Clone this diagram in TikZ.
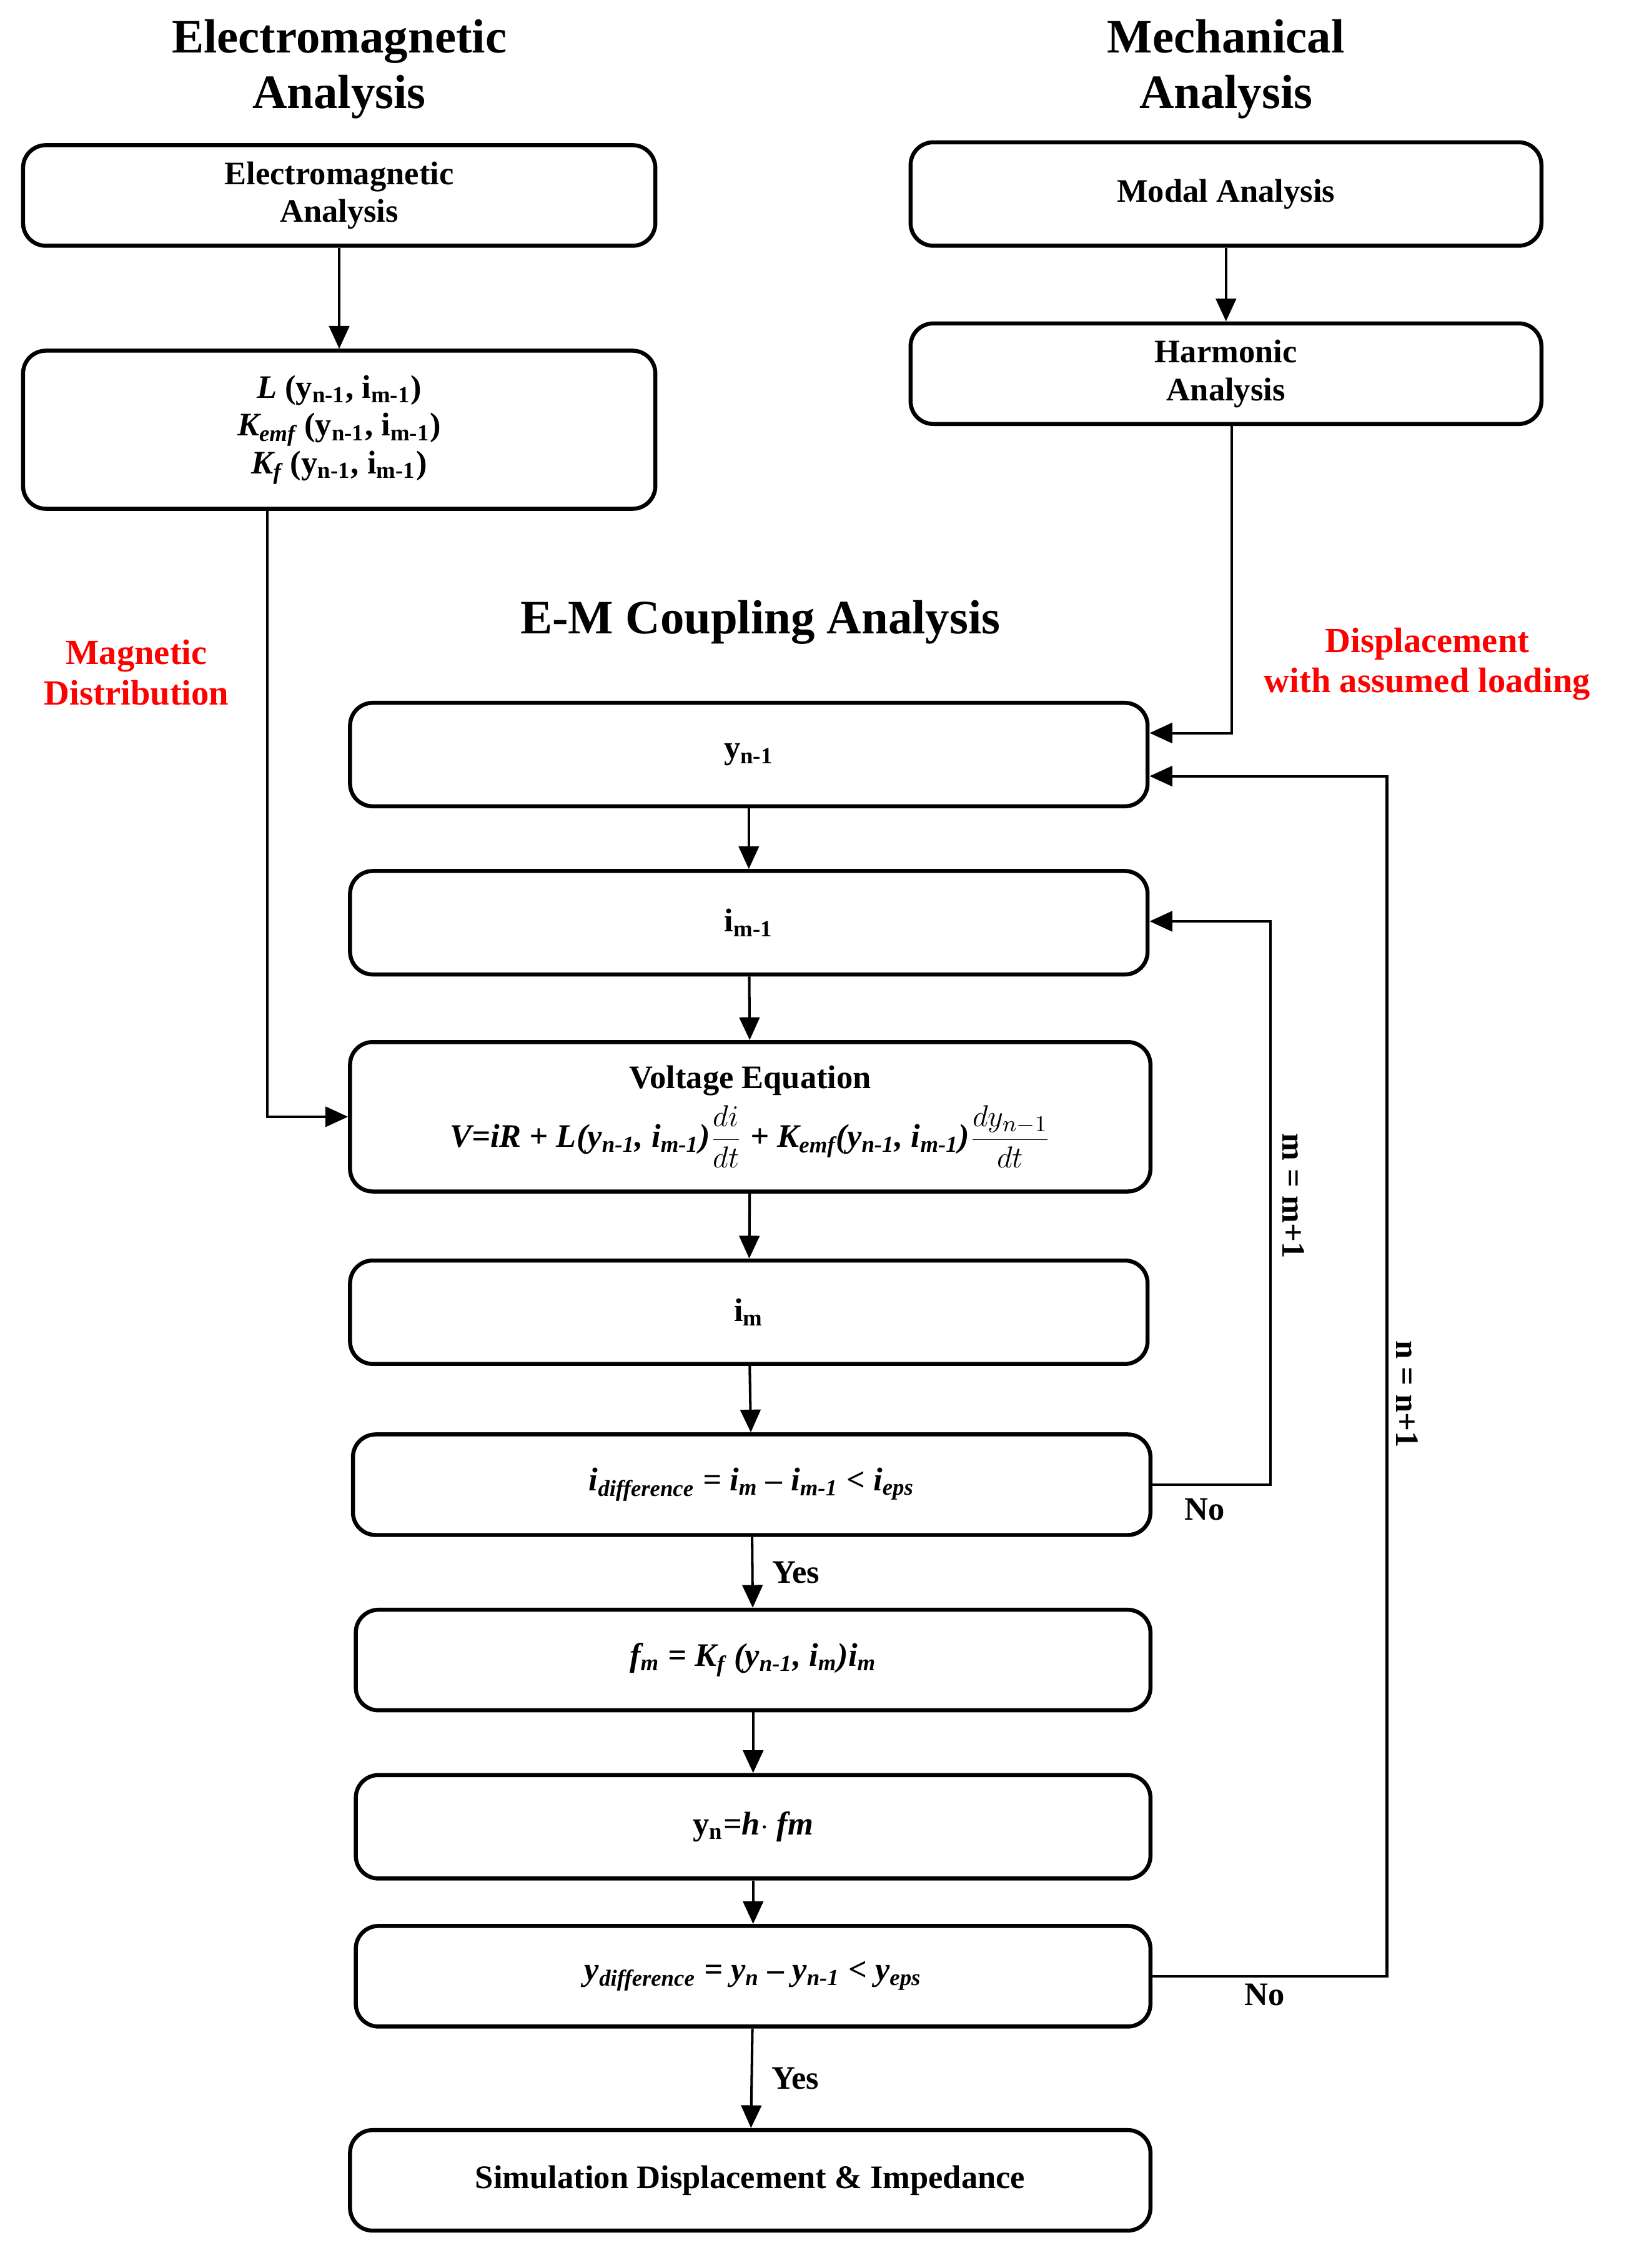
\documentclass[tikz,border=0pt]{standalone}
\usepackage{fontspec}
\setmainfont{Liberation Serif}
\usetikzlibrary{arrows.meta}
\begin{document}
\begin{tikzpicture}[x=0.02cm,y=-0.02cm,
  box/.style={draw, line width=1.6pt, rounded corners=9pt, align=center, font=\fontsize{13}{15}\selectfont\bfseries, inner sep=0pt},
  arr/.style={-{Triangle[length=9pt,width=8pt]}, line width=1pt},
  ttl/.style={align=center, font=\fontsize{19}{22}\selectfont\bfseries},
  red/.style={align=center, text=red, font=\fontsize{14}{16}\selectfont\bfseries},
  lbl/.style={font=\fontsize{13}{15}\selectfont\bfseries}]
\useasboundingbox (0,0) rectangle (1140,1578);
% titles
\node[ttl] (t1) at (236,48) {Electromagnetic\\Analysis};
\node[ttl] (t2) at (853,48) {Mechanical\\Analysis};
\node[ttl] (t3) at (529,433) {E-M Coupling Analysis};
\node[red] (r1) at (95,468) {Magnetic\\Distribution};
\node[red] (r2) at (993,462) {Displacement\\with assumed loading};
% left column
\node[box, minimum width=8.8cm, minimum height=1.4cm] (ema) at (236,136) {Electromagnetic\\Analysis};
\node[box, minimum width=8.8cm, minimum height=2.2cm] (par) at (236,299)
  {\textit{L} (y\textsubscript{n-1}, i\textsubscript{m-1})\\
   \textit{K\textsubscript{emf}} (y\textsubscript{n-1}, i\textsubscript{m-1})\\
   \textit{K\textsubscript{f}} (y\textsubscript{n-1}, i\textsubscript{m-1})};
% right column
\node[box, minimum width=8.78cm, minimum height=1.44cm] (mod) at (853,135) {Modal Analysis};
\node[box, minimum width=8.78cm, minimum height=1.4cm] (har) at (853,260) {Harmonic\\Analysis};
% center column
\node[box, minimum width=11.1cm, minimum height=1.44cm] (yn1) at (521,525) {y\textsubscript{n-1}};
\node[box, minimum width=11.1cm, minimum height=1.44cm] (im1) at (521,642) {i\textsubscript{m-1}};
\node[box, minimum width=11.14cm, minimum height=2.08cm] (vol) at (522,777)
  {Voltage Equation\\[3pt]
   \textit{V=iR + L(y\textsubscript{n-1}, i\textsubscript{m-1})}$\displaystyle\frac{di}{dt}$\textit{ + K\textsubscript{emf}(y\textsubscript{n-1}, i\textsubscript{m-1})}$\displaystyle\frac{dy_{n-1}}{dt}$};
\node[box, minimum width=11.1cm, minimum height=1.44cm] (im) at (521,913) {i\textsubscript{m}};
\node[box, minimum width=11.1cm, minimum height=1.4cm] (idf) at (523,1033)
  {\textit{i\textsubscript{difference} = i\textsubscript{m} -- i\textsubscript{m-1} < i\textsubscript{eps}}};
\node[box, minimum width=11.06cm, minimum height=1.4cm] (fm) at (524,1155)
  {\textit{f\textsubscript{m} = K\textsubscript{f} (y\textsubscript{n-1}, i\textsubscript{m})i\textsubscript{m}}};
\node[box, minimum width=11.06cm, minimum height=1.44cm] (yn) at (524,1271)
  {y\textsubscript{n}=\textit{h}$\cdot$ \textit{fm}};
\node[box, minimum width=11.06cm, minimum height=1.4cm] (ydf) at (524,1375)
  {\textit{y\textsubscript{difference} = y\textsubscript{n} -- y\textsubscript{n-1} < y\textsubscript{eps}}};
\node[box, minimum width=11.14cm, minimum height=1.4cm] (sim) at (522,1517) {Simulation Displacement \& Impedance};
% connectors
\draw[arr] (ema) -- (par);
\draw[arr] (mod) -- (har);
\draw[arr] (har.south -| 857,0) |- (yn1.east |- 0,510);
\draw[arr] (par.south -| 186,0) |- (vol.west);
\draw[arr] (yn1) -- (im1);
\draw[arr] (im1) -- (vol);
\draw[arr] (vol) -- (im);
\draw[arr] (im) -- (idf);
\draw[arr] (idf) -- node[lbl, right=4pt] {Yes} (fm);
\draw[arr] (fm) -- (yn);
\draw[arr] (yn) -- (ydf);
\draw[arr] (ydf) -- node[lbl, right=4pt] {Yes} (sim);
\coordinate (m1) at (884,1033);
\coordinate (n1) at (965,1375);
\draw[arr] (idf.east) -- (m1) |- (im1.east |- 0,641);
\draw[arr] (ydf.east) -- (n1) |- (yn1.east |- 0,540);
\node[lbl, rotate=-90] (mm) at (900,832) {m = m+1};
\node[lbl, rotate=-90] (nn) at (979,970) {n = n+1};
\node[lbl] (no1) at (838,1050) {No};
\node[lbl] (no2) at (880,1388) {No};
\end{tikzpicture}
\end{document}
